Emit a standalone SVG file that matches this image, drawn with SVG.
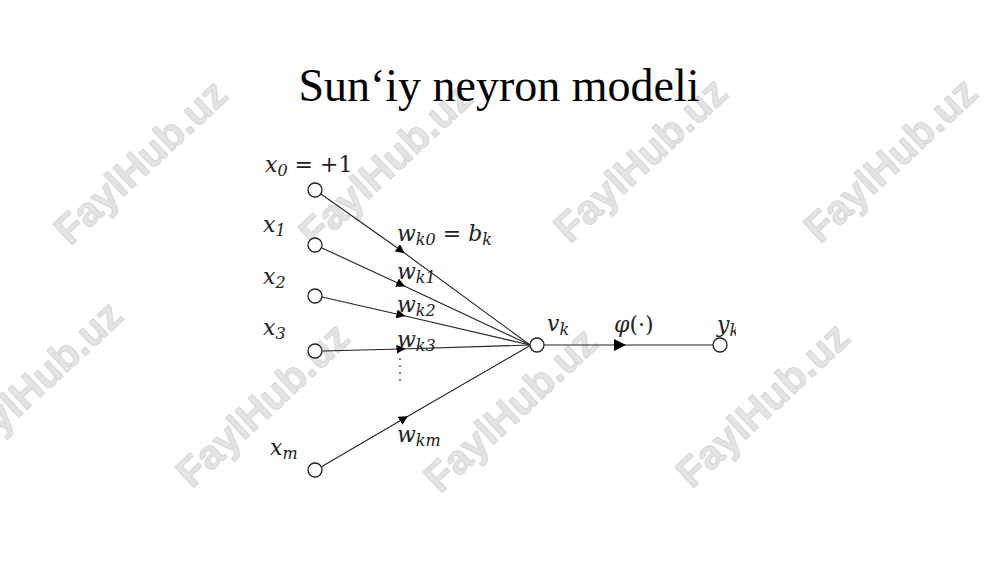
<svg xmlns="http://www.w3.org/2000/svg" width="1000" height="562" viewBox="0 0 1000 562">
<style>
.wm{font-family:"Liberation Sans",Arial,sans-serif;font-weight:bold;font-size:41px;fill:#e4e4e4;stroke:#d2d2d2;stroke-width:0.8px;text-anchor:middle}
.m{font-family:"DejaVu Serif","Liberation Serif",serif;font-style:italic;font-size:22px;fill:#222}
.r{font-family:"DejaVu Serif","Liberation Serif",serif;font-style:normal;font-size:22px;fill:#222}
.s{font-size:16px}
.ln{fill:none;stroke:#222;stroke-width:1.1}
.nd{fill:#fff;stroke:#222;stroke-width:1.3}
</style>
<defs>
<marker id="w" viewBox="0 0 10 10" refX="5" refY="5" markerWidth="9" markerHeight="9" markerUnits="userSpaceOnUse" orient="auto">
<path d="M0,0 L10,5 L0,10 z" fill="#000"/>
</marker>
<marker id="a" viewBox="0 0 10 10" refX="5" refY="5" markerWidth="12" markerHeight="12" markerUnits="userSpaceOnUse" orient="auto">
<path d="M0,0 L10,5 L0,10 z" fill="#000"/>
</marker>
<clipPath id="cl"><rect x="0" y="0" width="736" height="562"/></clipPath>
</defs>
<rect width="1000" height="562" fill="#fff"/>
<g id="watermarks">
<text class="wm" transform="translate(150,172) rotate(-43)">FaylHub.uz</text>
<text class="wm" transform="translate(395,175) rotate(-43)">FaylHub.uz</text>
<text class="wm" transform="translate(650,170) rotate(-43)">FaylHub.uz</text>
<text class="wm" transform="translate(900,170) rotate(-43)">FaylHub.uz</text>
<text class="wm" transform="translate(45,393) rotate(-43)">FaylHub.uz</text>
<text class="wm" transform="translate(272,415) rotate(-43)">FaylHub.uz</text>
<text class="wm" transform="translate(520,420) rotate(-43)">FaylHub.uz</text>
<text class="wm" transform="translate(772,415) rotate(-43)">FaylHub.uz</text>
</g>
<text id="title" x="499" y="101" text-anchor="middle" font-family="Liberation Serif, Times New Roman, serif" font-size="46" fill="#000">Sun‘iy neyron modeli</text>
<g id="connectors">
<polyline class="ln" points="321,194 401,250.5 530,345" marker-mid="url(#w)"/>
<polyline class="ln" points="322,248 401,284.5 530,345" marker-mid="url(#w)"/>
<polyline class="ln" points="322,297 401,315 530,345" marker-mid="url(#w)"/>
<polyline class="ln" points="323,351 401,349 530,345" marker-mid="url(#w)"/>
<polyline class="ln" points="321,467 404,418.5 531,345" marker-mid="url(#w)"/>
<line class="ln" x1="400" y1="358" x2="400" y2="384" stroke-dasharray="2 5"/>
<polyline class="ln" points="544,345 620,345 713,345" marker-mid="url(#a)"/>
</g>
<g id="x0"><circle class="nd" cx="315" cy="190" r="7"/><text class="m" x="265" y="172">x<tspan class="s" dy="4">0</tspan><tspan class="r" dy="-4"> = +1</tspan></text></g>
<g id="x1"><circle class="nd" cx="315" cy="245" r="7"/><text class="m" x="263" y="232">x<tspan class="s" dy="4">1</tspan></text></g>
<g id="x2"><circle class="nd" cx="315" cy="296" r="7"/><text class="m" x="263" y="284">x<tspan class="s" dy="4">2</tspan></text></g>
<g id="x3"><circle class="nd" cx="315" cy="351" r="7"/><text class="m" x="263" y="335">x<tspan class="s" dy="4">3</tspan></text></g>
<g id="xm"><circle class="nd" cx="315" cy="470" r="7"/><text class="m" x="270" y="455">x<tspan class="s" dy="4">m</tspan></text></g>
<g id="weights">
<text class="m" x="397" y="241">w<tspan class="s" dy="4">k0</tspan><tspan class="r" dy="-4"> = </tspan>b<tspan class="s" dy="4">k</tspan></text>
<text class="m" x="397" y="279">w<tspan class="s" dy="4">k1</tspan></text>
<text class="m" x="397" y="312">w<tspan class="s" dy="4">k2</tspan></text>
<text class="m" x="397" y="347">w<tspan class="s" dy="4">k3</tspan></text>
<text class="m" x="397" y="442">w<tspan class="s" dy="4">km</tspan></text>
</g>
<g id="sum"><circle class="nd" cx="537" cy="345" r="7"/><text class="m" x="547" y="331">v<tspan class="s" dy="4">k</tspan></text></g>
<text id="phi" class="m" x="614" y="332">φ<tspan class="r">(·)</tspan></text>
<g id="out"><circle class="nd" cx="720" cy="345" r="7"/><text class="m" x="717" y="332" clip-path="url(#cl)">y<tspan class="s" dy="4">k</tspan></text></g>
</svg>
